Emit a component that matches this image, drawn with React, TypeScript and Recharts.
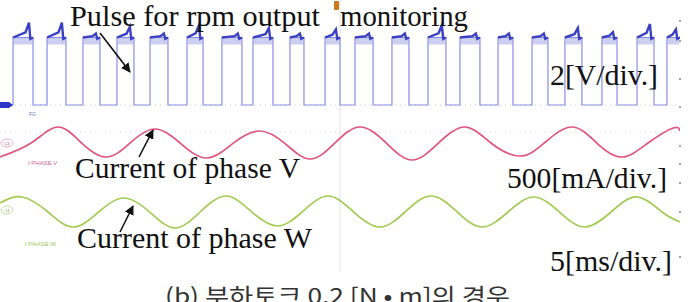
import React from 'react';
import { LineChart, Line, XAxis, YAxis, ReferenceLine } from 'recharts';

// FG pulse edges (ms), 5 ms/div
const pulseRise = [0.96, 3.46, 6.1, 8.6, 11.03, 13.75, 16.32, 18.6, 21.32, 23.9, 26.1, 28.82, 31.47, 33.82, 36.62, 39.12, 41.54, 44.26, 46.84, 49.04];
const pulseFall: (number | null)[] = [2.43, 4.85, 7.35, 9.85, 12.35, 14.93, 17.79, 20.07, 22.35, 25.0, 27.43, 30.07, 32.79, 35.29, 37.72, 40.29, 42.79, 45.37, 48.09, null];
const pulsePeak = [6.1, 6.1, 5.3, 5.8, 5.3, 5.9, 5.3, 5.7, 5.3, 5.6, 5.3, 5.3, 5.9, 5.3, 5.3, 5.3, 5.7, 5.4, 6.0, 5.6];
const pulseHigh = 5.0;
const pulseNoiseLow = 4.75;

// phase currents (ms, mA)
const phaseVTime = [0, 2.35, 4.26, 6.03, 7.87, 9.63, 11.4, 13.24, 15.22, 17.21, 19.12, 20.96, 22.79, 24.63, 26.47, 28.38, 30.29, 32.21, 34.19, 36.1, 38.24, 40.07, 42.06, 43.9, 45.74, 47.65, 49.49, 50];
const phaseVCurrent = [-259, 10, 296, -5, -259, 15, 259, 0, -278, 8, 222, -10, -296, 0, 296, 5, -315, -8, 296, 0, -241, 10, 296, -5, -259, 0, 278, 222];
const phaseWTime = [0, 1.62, 3.53, 5.37, 7.28, 9.12, 11.03, 12.87, 14.71, 16.62, 18.46, 20.37, 22.21, 24.12, 26.03, 27.94, 29.78, 31.69, 33.6, 35.44, 37.35, 39.26, 41.18, 43.01, 44.93, 46.84, 48.68, 50];
const phaseWCurrent = [167, 278, 0, -278, 5, 259, -5, -296, 0, 296, 10, -259, 0, 296, -5, -278, 0, 296, 5, -278, 0, 278, -10, -278, 0, 278, 0, -185];

const pulseData: { t: number; v: number }[] = [{ t: 0, v: 0 }];
pulseRise.forEach((r, i) => {
  const f = pulseFall[i];
  pulseData.push({ t: r, v: 0 }, { t: r, v: pulseHigh });
  if (f === null) pulseData.push({ t: 50, v: pulseHigh });
  else pulseData.push({ t: f, v: pulseHigh }, { t: f, v: 0 });
});

// darker, noisy top of each pulse with the spike near its end
const pulseTopData: { t: number; v: number | null }[] = [];
const pulseHazeData: { t: number; v: number | null }[] = [];
pulseRise.forEach((r, i) => {
  const f = pulseFall[i] ?? 50;
  pulseTopData.push(
    { t: r, v: pulseHigh },
    { t: f - 0.55, v: pulseHigh + (pulsePeak[i] - pulseHigh) * 0.35 },
    { t: f - 0.3, v: pulsePeak[i] },
    { t: f - 0.2, v: pulseHigh - 0.1 },
    { t: f, v: pulseHigh },
    { t: f, v: null }
  );
  pulseHazeData.push({ t: r + 0.05, v: pulseNoiseLow }, { t: f - 0.05, v: pulseNoiseLow }, { t: f, v: null });
});

const vData = phaseVTime.map((t, i) => ({ t, v: phaseVCurrent[i] }));
const wData = phaseWTime.map((t, i) => ({ t, v: phaseWCurrent[i] }));

const PLOT_H = 272;
const DIV_PX = 27;
const domainFor = (zeroPx: number, perDiv: number): [number, number] => {
  const perPx = perDiv / DIV_PX;
  return [-(PLOT_H - zeroPx) * perPx, zeroPx * perPx];
};

const serif = '"Liberation Serif", "Times New Roman", serif';
const rightDots = [21, 41, 79, 107, 146, 164, 183, 212, 257];

const Arrow = ({ x1, y1, x2, y2 }: { x1: number; y1: number; x2: number; y2: number }) => (
  <line x1={x1} y1={y1} x2={x2} y2={y2} stroke="#111" strokeWidth={1.6} markerEnd="url(#ah)" />
);

export default function App() {
  return (
    <div style={{ position: 'absolute', left: 0, top: 0, width: 692, height: 302, background: '#fff', overflow: 'hidden' }}>
      <LineChart width={692} height={302} data={pulseData} margin={{ top: 0, right: 12, bottom: 30, left: 0 }}>
        <XAxis dataKey="t" type="number" domain={[0, 50]} hide allowDataOverflow />
        <YAxis yAxisId="v" hide domain={domainFor(105, 2)} allowDataOverflow />
        <YAxis yAxisId="iv" hide domain={domainFor(143, 500)} allowDataOverflow />
        <YAxis yAxisId="iw" hide domain={domainFor(212, 500)} allowDataOverflow />
        <ReferenceLine yAxisId="v" x={25} stroke="#e4e4e4" strokeWidth={1} />
        <ReferenceLine yAxisId="v" y={0} stroke="#c8c8c8" strokeDasharray="1 4" />
        <ReferenceLine yAxisId="v" y={-2} stroke="#d8d8d8" strokeDasharray="1 4" />
        <Line yAxisId="v" data={pulseData} dataKey="v" type="linear" stroke="#8a8fe2" strokeWidth={1.2} dot={false} isAnimationActive={false} />
        <Line yAxisId="v" data={pulseHazeData} dataKey="v" type="linear" stroke="#5a60d2" strokeWidth={7} strokeOpacity={0.3} dot={false} connectNulls={false} isAnimationActive={false} />
        <Line yAxisId="v" data={pulseTopData} dataKey="v" type="linear" stroke="#3b40c2" strokeWidth={2.4} dot={false} connectNulls={false} isAnimationActive={false} />
        <Line yAxisId="iv" data={vData} dataKey="v" type="natural" stroke="#e0557c" strokeWidth={1.7} dot={false} isAnimationActive={false} />
        <Line yAxisId="iw" data={wData} dataKey="v" type="natural" stroke="#a3cc55" strokeWidth={1.7} dot={false} isAnimationActive={false} />
      </LineChart>
      <svg width={692} height={302} style={{ position: 'absolute', left: 0, top: 0 }}>
        <defs>
          <marker id="ah" viewBox="0 0 10 10" refX="9" refY="5" markerWidth="6" markerHeight="6" orient="auto">
            <path d="M0,0 L10,5 L0,10 z" fill="#111" />
          </marker>
        </defs>
        {/* scope markers */}
        <path d="M0,102 L9,102 L13,105 L9,108 L0,108 z" fill="#2f35c8" />
        <rect x={334} y={1} width={5} height={9} rx={1} fill="#c97a1c" />
        <ellipse cx={7} cy={143} rx={6} ry={4} fill="none" stroke="#e79ab0" strokeWidth={0.8} />
        <text x={7} y={145} fontSize={4} fill="#c05070" textAnchor="middle" fontFamily="sans-serif">C3</text>
        <ellipse cx={7} cy={210} rx={6} ry={4} fill="none" stroke="#b8d98a" strokeWidth={0.8} />
        <text x={7} y={212} fontSize={4} fill="#7a9a40" textAnchor="middle" fontFamily="sans-serif">C4</text>
        <text x={29} y={116} fontSize={5} fill="#7078c0" fontFamily="sans-serif">FG</text>
        <text x={28} y={165} fontSize={6} fill="#d86888" fontFamily="sans-serif">I PHASE V</text>
        <text x={25} y={246} fontSize={6} fill="#a2c860" fontFamily="sans-serif">I PHASE W</text>
        {rightDots.map((y) => (
          <circle key={y} cx={680} cy={y} r={1} fill="#8a8a8a" />
        ))}
        {/* annotations */}
        <text x={70} y={26} fontSize={30} fontFamily={serif} fill="#111" textLength={250} lengthAdjust="spacingAndGlyphs">Pulse for rpm output</text>
        <text x={340} y={26} fontSize={30} fontFamily={serif} fill="#111" textLength={128} lengthAdjust="spacingAndGlyphs">monitoring</text>
        <text x={550} y={85} fontSize={29} fontFamily={serif} fill="#111" textLength={108} lengthAdjust="spacingAndGlyphs">2[V/div.]</text>
        <text x={75} y={178} fontSize={29} fontFamily={serif} fill="#111" textLength={225} lengthAdjust="spacingAndGlyphs">Current of phase V</text>
        <text x={507} y={188} fontSize={29} fontFamily={serif} fill="#111" textLength={160} lengthAdjust="spacingAndGlyphs">500[mA/div.]</text>
        <text x={77} y={248} fontSize={29} fontFamily={serif} fill="#111" textLength={235} lengthAdjust="spacingAndGlyphs">Current of phase W</text>
        <text x={550} y={271} fontSize={29} fontFamily={serif} fill="#111" textLength={122} lengthAdjust="spacingAndGlyphs">5[ms/div.]</text>
        <Arrow x1={100} y1={33} x2={130} y2={72} />
        <Arrow x1={139} y1={157} x2={153} y2={130} />
        <Arrow x1={120} y1={232} x2={133} y2={206} />
        <text x={165} y={304} fontSize={22} fontFamily='"Noto Sans CJK KR", "Noto Sans", sans-serif' fill="#333" textLength={345} lengthAdjust="spacingAndGlyphs">(b) 부하토크 0.2 [N • m]의 경우</text>
      </svg>
    </div>
  );
}
